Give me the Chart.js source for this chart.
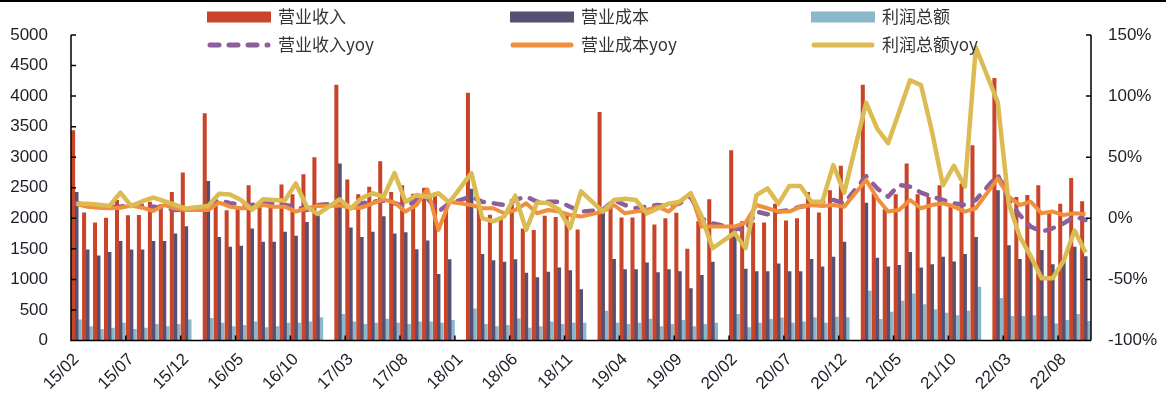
<!DOCTYPE html>
<html>
<head>
<meta charset="utf-8">
<script src="https://cdn.jsdelivr.net/npm/chart.js@4/dist/chart.umd.min.js"></script>
<style>
  html, body { margin: 0; padding: 0; background: #fff; }
  #wrap { width: 1166px; height: 396px; position: relative; }
</style>
</head>
<body>
<div id="wrap"><canvas id="c" width="1166" height="396"></canvas></div>
<script>
// Monthly categories, Feb 2015 – Oct 2022 (January figures are reported together with February)
const months = [
  '15/02','15/03','15/04','15/05','15/06','15/07','15/08','15/09','15/10','15/11','15/12',
  '16/01','16/02','16/03','16/04','16/05','16/06','16/07','16/08','16/09','16/10','16/11','16/12',
  '17/01','17/02','17/03','17/04','17/05','17/06','17/07','17/08','17/09','17/10','17/11','17/12',
  '18/01','18/02','18/03','18/04','18/05','18/06','18/07','18/08','18/09','18/10','18/11','18/12',
  '19/01','19/02','19/03','19/04','19/05','19/06','19/07','19/08','19/09','19/10','19/11','19/12',
  '20/01','20/02','20/03','20/04','20/05','20/06','20/07','20/08','20/09','20/10','20/11','20/12',
  '21/01','21/02','21/03','21/04','21/05','21/06','21/07','21/08','21/09','21/10','21/11','21/12',
  '22/01','22/02','22/03','22/04','22/05','22/06','22/07','22/08','22/09','22/10'
];

// 营业收入 (left axis)
const revenue = [
  3440,2095,1930,2010,2300,2050,2055,2270,2230,2430,2750,
  null,3720,2215,2130,2170,2540,2210,2230,2555,2395,2720,3000,
  null,4185,2635,2395,2515,2935,2430,2540,2400,2500,2420,2200,
  null,4055,2300,2060,1990,2310,1835,1810,2040,2020,2080,1815,
  null,3740,2230,2015,2015,2170,1900,2000,2090,1500,1950,2310,
  null,3115,1950,1930,1930,2240,1965,2000,2430,2095,2460,2860,
  null,4185,2400,2150,2395,2895,2395,2350,2540,2240,2570,3195,
  null,4295,2635,2350,2380,2540,2105,2240,2660,2280
];

// 营业成本 (left axis)
const cost = [
  2430,1490,1390,1450,1630,1490,1490,1630,1630,1750,1870,
  null,2610,1695,1535,1550,1835,1615,1615,1780,1715,1940,2080,
  null,2895,1850,1695,1780,2035,1750,1770,1495,1635,1090,1330,
  null,2485,1415,1315,1290,1330,1110,1035,1125,1195,1150,840,
  null,2150,1335,1165,1165,1275,1115,1165,1135,855,1070,1290,
  null,1800,1175,1135,1135,1260,1135,1135,1335,1210,1370,1615,
  null,2255,1355,1210,1235,1450,1195,1250,1370,1295,1415,1695,
  null,2460,1560,1335,1395,1480,1250,1315,1535,1380
];

// 利润总额 (left axis)
const profit = [
  345,235,190,210,290,190,210,270,235,270,345,
  null,370,290,235,255,310,215,235,290,290,310,380,
  null,435,310,270,290,355,290,270,310,310,290,335,
  null,525,270,235,255,360,210,235,310,270,290,290,
  null,485,290,270,290,355,235,270,335,235,270,290,
  null,435,215,290,350,375,290,310,380,290,390,380,
  null,815,350,470,650,770,595,510,455,415,485,880,
  null,695,400,400,415,400,280,335,435,320
];

// 营业收入yoy, % (right axis)
const revenueYoy = [
  12.3,10.9,10,9.5,9.5,10.9,10.4,9.5,8.2,6.8,7.4,
  null,10,15,12.3,11.5,10.9,12.3,12.3,10.9,9.5,6.8,10.9,
  null,12.3,10.9,12.3,13.6,14.5,12.3,9.5,15,16.4,5.5,12.3,
  null,17.7,13.6,12.3,10.9,15,17.7,13.6,13.6,13.6,9.5,5.5,
  null,6.8,15,10.9,8.2,9.5,10.9,9.5,12.3,17.7,0,-4.1,
  null,-8.2,-9.5,5.5,3.3,5.5,6.8,9.5,10.9,13.6,15,12.3,
  null,34.6,24.5,17.7,27.3,25.9,21,17.7,15,12.3,10.9,15,
  null,35.4,15,2.7,-6.8,-10.9,-8.2,-4.1,1.4,-1.4
];

// 营业成本yoy, % (right axis)
const costYoy = [
  11.7,9.5,8.7,8.2,8.7,10.4,8.7,6,10.9,8.2,6.8,
  null,6.8,12.8,9.5,8.2,8.2,10.9,9.5,9.5,5.5,8.2,10,
  null,10.4,8.7,8.7,12.3,15.5,12.8,5.5,10.9,23.7,-9.5,13.6,
  null,10.9,8.2,8.2,4.1,6.8,12.3,4.1,6.8,5.5,2.7,1.4,
  null,5.5,10.9,4.1,5.5,6.8,9.5,5.5,13.6,20.5,-6.8,-6.8,
  null,-6.8,-3.5,10.9,8.2,5.5,5.5,9.5,10.9,10,10.9,9.5,
  null,31.4,16.4,5.5,6.8,15,8.2,10.9,12.3,9.5,5.5,8.2,
  null,32.7,17.7,10.9,13.6,4.1,5.5,2.7,4.1,3.3
];

// 利润总额yoy, % (right axis)
const profitYoy = [
  12,12,11,10,21,10,14,17,14,11,8,
  null,10,20,19.5,15,7,15.5,15,14.5,28.5,9.5,3.5,
  null,15.5,8,16.5,20.5,17.5,37,13.5,19,17.5,20.5,13,
  null,37,0,-2.5,1.5,18.5,-9.5,13,12.5,7,-8,22,
  null,5.5,15,16,15,4,8,12,13.5,20.5,1.5,-24.5,
  null,-12,-24.5,19,24.5,12,26.5,26.5,13.5,13.5,43.5,21,
  null,94.5,73.5,61.5,87,113,109,71,27,43,26,140,
  null,95,12,-15,-31,-49,-49,-35,-10,-28
];

// Axis tick values
const leftTicks = { min: 0, max: 5000, step: 500 };
const rightTicks = { min: -100, max: 150, step: 50 };
const labelEvery = 5;

const COLORS = {
  revenue: '#C8452A',
  cost: '#565174',
  profit: '#8BB7CA',
  revenueYoy: '#8C5E9A',
  costYoy: '#F28F3D',
  profitYoy: '#DBBB52'
};

const TEXT = '#1E1E28';
const CJK = '"Noto Sans CJK SC", "Noto Sans", sans-serif';
const LATIN = '"Liberation Sans", Arial, sans-serif';

// Axis lines, inward tick marks and the top rule
const frame = {
  id: 'frame',
  afterDraw(chart) {
    const { ctx, chartArea: a, scales } = chart;
    ctx.save();
    ctx.strokeStyle = '#000';
    ctx.lineWidth = 1.5;
    ctx.beginPath();
    ctx.moveTo(a.left, a.top); ctx.lineTo(a.left, a.bottom); ctx.lineTo(a.right, a.bottom);
    ctx.moveTo(a.right, a.top); ctx.lineTo(a.right, a.bottom);
    scales.y.ticks.forEach(t => {
      const py = scales.y.getPixelForValue(t.value);
      ctx.moveTo(a.left, py); ctx.lineTo(a.left + 5, py);
    });
    scales.y1.ticks.forEach(t => {
      const py = scales.y1.getPixelForValue(t.value);
      ctx.moveTo(a.right, py); ctx.lineTo(a.right - 5, py);
    });
    const x = scales.x;
    const step = x.getPixelForValue(1) - x.getPixelForValue(0);
    for (let i = labelEvery; i < months.length; i += labelEvery) {
      const px = x.getPixelForValue(i) - step / 2;
      ctx.moveTo(px, a.bottom); ctx.lineTo(px, a.bottom - 5);
    }
    ctx.stroke();
    ctx.fillStyle = '#000';
    ctx.fillRect(0, 0, chart.width, 2);
    ctx.restore();
  }
};

// Two-row, three-column legend across the top
const topLegend = {
  id: 'topLegend',
  afterDraw(chart) {
    const { ctx } = chart;
    const cols = [207, 510, 811];
    const rows = [17, 45];
    const sw = 64;
    ctx.save();
    chart.data.datasets.forEach((ds, i) => {
      const x = cols[i % 3];
      const y = rows[Math.floor(i / 3)];
      if (ds.type === 'bar') {
        ctx.fillStyle = ds.backgroundColor;
        ctx.fillRect(x, y - 5.5, sw, 11);
      } else {
        ctx.strokeStyle = ds.borderColor;
        ctx.lineWidth = 5;
        ctx.lineCap = 'round';
        ctx.setLineDash(ds.borderDash || []);
        ctx.beginPath();
        ctx.moveTo(x + 3, y); ctx.lineTo(x + sw - 3, y);
        ctx.stroke();
        ctx.setLineDash([]);
      }
      ctx.fillStyle = '#333';
      ctx.font = '17px ' + CJK;
      ctx.textBaseline = 'middle';
      ctx.textAlign = 'left';
      ctx.fillText(ds.label, x + sw + 7, y);
    });
    ctx.restore();
  }
};

const barCommon = { type: 'bar', yAxisID: 'y', order: 10, categoryPercentage: 0.92, barPercentage: 1.2 };
const lineCommon = { type: 'line', yAxisID: 'y1', pointRadius: 0, tension: 0, spanGaps: true,
  borderJoinStyle: 'round', fill: false };

new Chart(document.getElementById('c'), {
  data: {
    labels: months,
    datasets: [
      { ...barCommon, label: '营业收入', data: revenue, backgroundColor: COLORS.revenue },
      { ...barCommon, label: '营业成本', data: cost, backgroundColor: COLORS.cost },
      { ...barCommon, label: '利润总额', data: profit, backgroundColor: COLORS.profit },
      { ...lineCommon, label: '营业收入yoy', data: revenueYoy, borderColor: COLORS.revenueYoy,
        borderWidth: 4.5, borderDash: [9, 10], borderCapStyle: 'round', order: 3 },
      { ...lineCommon, label: '营业成本yoy', data: costYoy, borderColor: COLORS.costYoy,
        borderWidth: 4, order: 2 },
      { ...lineCommon, label: '利润总额yoy', data: profitYoy, borderColor: COLORS.profitYoy,
        borderWidth: 4.5, order: 1 }
    ]
  },
  options: {
    responsive: false,
    animation: false,
    devicePixelRatio: 1,
    layout: { padding: { top: 35, left: 0, right: 0, bottom: 0 } },
    plugins: { legend: { display: false }, tooltip: { enabled: false } },
    scales: {
      x: {
        type: 'category',
        offset: true,
        grid: { display: false, drawTicks: false },
        border: { display: false },
        ticks: {
          autoSkip: false, minRotation: 45, maxRotation: 45, padding: 9,
          color: TEXT, font: { family: LATIN, size: 17 },
          callback: (v, i) => (i % labelEvery === 0 ? months[i] : '')
        },
        afterFit: s => { s.height = 55.5; }
      },
      y: {
        position: 'left',
        min: leftTicks.min, max: leftTicks.max,
        grid: { display: false, drawTicks: false },
        border: { display: false },
        ticks: { stepSize: leftTicks.step, padding: 23, color: TEXT, font: { family: LATIN, size: 17 },
          callback: v => String(v) },
        afterFit: s => { s.width = 71; }
      },
      y1: {
        position: 'right',
        min: rightTicks.min, max: rightTicks.max,
        grid: { display: false, drawTicks: false },
        border: { display: false },
        ticks: { stepSize: rightTicks.step, padding: 17, color: TEXT, font: { family: LATIN, size: 17 },
          callback: v => v + '%' },
        afterFit: s => { s.width = 75; }
      }
    }
  },
  plugins: [frame, topLegend]
});
</script>
</body>
</html>
